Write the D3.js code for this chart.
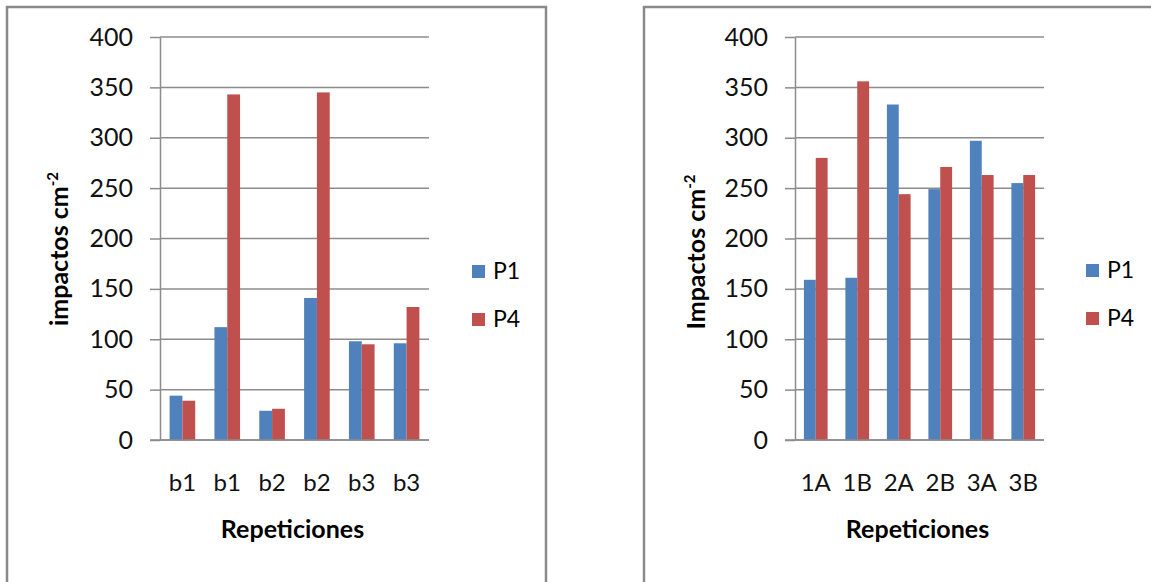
<!DOCTYPE html>
<html>
<head>
<meta charset="utf-8">
<script src="https://cdn.jsdelivr.net/npm/d3@7"></script>
<style>
  body { margin: 0; background: #ffffff; }
  text { font-family: Lato, "Open Sans", "Liberation Sans", sans-serif; fill: #000; }
</style>
</head>
<body>
<svg id="chart" width="1151" height="582"></svg>
<script>
// Impact counts per repetition, two sampling positions (P1, P4)
const seriesNames = ["P1", "P4"];
const seriesColors = ["#4F81BD", "#C0504D"];
const yTicks = [0, 50, 100, 150, 200, 250, 300, 350, 400];

const leftCategories = ["b1", "b1", "b2", "b2", "b3", "b3"];
const leftP1 = [44, 112, 29, 141, 98, 96];
const leftP4 = [39, 343, 31, 345, 95, 132];

const rightCategories = ["1A", "1B", "2A", "2B", "3A", "3B"];
const rightP1 = [159, 161, 333, 249, 297, 255];
const rightP4 = [280, 356, 244, 271, 263, 263];

const xTitle = "Repeticiones";

const svg = d3.select("#chart");

function drawPanel(cfg) {
  const g = svg.append("g");

  // panel frame
  g.append("rect")
    .attr("x", cfg.frame.x).attr("y", cfg.frame.y)
    .attr("width", cfg.frame.w).attr("height", cfg.frame.h)
    .attr("fill", "#fff").attr("stroke", "#8a8a8a").attr("stroke-width", 2.5);

  const p = cfg.plot;
  const y = d3.scaleLinear().domain([0, 400]).range([p.bottom, p.top]);
  const x0 = d3.scaleBand().domain(d3.range(cfg.categories.length)).range([p.left, p.right]);
  const bw = x0.bandwidth();
  const gap = bw * 0.75 / 3.5;
  const x1 = d3.scaleBand().domain(seriesNames).range([gap, bw - gap]);

  // horizontal gridlines
  g.append("g").selectAll("line").data(yTicks).join("line")
    .attr("x1", p.left).attr("x2", p.right)
    .attr("y1", d => y(d)).attr("y2", d => y(d))
    .attr("stroke", "#8c8c8c").attr("stroke-width", 1.5);

  // y axis with outside tick marks and labels
  const ya = g.append("g")
    .attr("transform", `translate(${p.left},0)`)
    .call(d3.axisLeft(y).tickValues(yTicks).tickSize(10).tickSizeOuter(0).tickPadding(17));
  ya.selectAll("line").attr("stroke", "#8c8c8c").attr("stroke-width", 1.5);
  ya.select(".domain").attr("stroke", "#8c8c8c").attr("stroke-width", 1.5);
  ya.selectAll("text").attr("font-size", 25).attr("font-family", null).style("fill", "#111");

  // bars
  const rows = cfg.categories.map((c, i) => ({ i, values: [cfg.p1[i], cfg.p4[i]] }));
  const groups = g.append("g").selectAll("g").data(rows).join("g")
    .attr("transform", d => `translate(${x0(d.i)},0)`);
  groups.selectAll("rect").data(d => d.values.map((v, k) => ({ key: seriesNames[k], v, k })))
    .join("rect")
    .attr("x", d => x1(d.key))
    .attr("width", x1.bandwidth())
    .attr("y", d => y(d.v))
    .attr("height", d => y(0) - y(d.v))
    .attr("fill", d => seriesColors[d.k]);

  // redraw baseline on top of bars
  g.append("line")
    .attr("x1", p.left - 10).attr("x2", p.right)
    .attr("y1", y(0)).attr("y2", y(0))
    .attr("stroke", "#8c8c8c").attr("stroke-width", 1.5);

  // category axis labels
  const xa = g.append("g")
    .attr("transform", `translate(0,${p.bottom})`)
    .call(d3.axisBottom(x0).tickSize(0).tickFormat(i => cfg.categories[i]));
  xa.select(".domain").remove();
  xa.selectAll("text").attr("font-size", 24).attr("font-family", null)
    .attr("y", 51).attr("dy", null).style("fill", "#111");

  // axis titles
  g.append("text")
    .attr("x", (p.left + p.right) / 2 - 2).attr("y", 538)
    .attr("text-anchor", "middle").attr("font-size", 25).attr("font-weight", "bold")
    .text(xTitle);

  const yt = g.append("text")
    .attr("transform", `translate(${cfg.yTitle.x},${cfg.yTitle.y}) rotate(-90)`)
    .attr("text-anchor", "middle").attr("font-size", 25).attr("font-weight", "bold");
  yt.append("tspan").text(cfg.yTitle.text + " cm");
  yt.append("tspan").attr("font-size", 15).attr("dy", -10).text("-2");

  // legend
  const lg = g.append("g").attr("transform", `translate(${cfg.legend.x},${cfg.legend.y})`);
  seriesNames.forEach((name, k) => {
    lg.append("rect").attr("x", 0).attr("y", k * 48).attr("width", 13).attr("height", 13)
      .attr("fill", seriesColors[k]);
    lg.append("text").attr("x", 21).attr("y", k * 48 + 14).attr("font-size", 23).text(name);
  });
}

drawPanel({
  frame: { x: 7, y: 7, w: 539, h: 600 },
  plot: { left: 160, right: 429, top: 37, bottom: 440 },
  categories: leftCategories, p1: leftP1, p4: leftP4,
  yTitle: { x: 68, y: 249, text: "impactos" },
  legend: { x: 472, y: 265 }
});

drawPanel({
  frame: { x: 644, y: 7, w: 540, h: 600 },
  plot: { left: 795, right: 1044, top: 37, bottom: 440 },
  categories: rightCategories, p1: rightP1, p4: rightP4,
  yTitle: { x: 705, y: 252, text: "Impactos" },
  legend: { x: 1086, y: 264 }
});
</script>
</body>
</html>
